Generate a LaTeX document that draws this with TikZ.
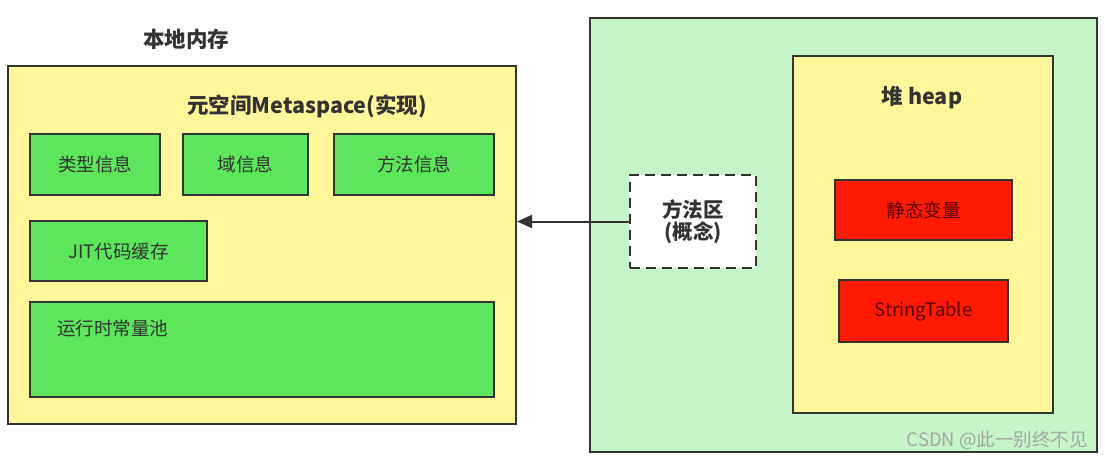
\documentclass[tikz,border=0pt]{standalone}
\usepackage{fontspec}
\setmainfont{Noto Sans CJK SC}
\usepackage{tikz}
\usetikzlibrary{arrows.meta,positioning,calc}

\definecolor{memyellow}{RGB}{255,247,153}
\definecolor{boxgreen}{RGB}{92,230,92}
\definecolor{jvmgreen}{RGB}{198,245,202}
\definecolor{heapred}{RGB}{255,26,0}
\definecolor{edge}{RGB}{51,51,51}

\tikzset{
  area/.style={draw=edge,line width=2pt,rectangle,inner sep=0pt},
  membox/.style={area,fill=memyellow},
  infobox/.style={area,fill=boxgreen,text=edge,font=\fontsize{18.5}{21}\selectfont},
  redbox/.style={area,fill=heapred,text=red!35!black,font=\fontsize{18.5}{21}\selectfont},
  title/.style={text=edge,font=\fontsize{21.5}{24}\selectfont\bfseries},
}

\begin{document}
\begin{tikzpicture}[x=1pt,y=-1pt]
  \useasboundingbox[fill=white] (0,0) rectangle (1105,459);

  % native memory side
  \node[title] (memtitle) at (186,39) {本地内存};
  \node[membox,minimum width=508pt,minimum height=358pt] (mem) at (262,245) {};
  \node[title] (metatitle) at (307,106) {元空间Metaspace(实现)};

  \node[infobox,minimum width=130pt,minimum height=61pt] (cls) at (95,164.5) {类型信息};
  \node[infobox,minimum width=125pt,minimum height=61pt] (fld) at (245.5,164.5) {域信息};
  \node[infobox,minimum width=160pt,minimum height=61pt] (mtd) at (414,164.5) {方法信息};
  \node[infobox,minimum width=177pt,minimum height=60pt] (jit) at (118.5,251) {JIT代码缓存};
  \node[infobox,minimum width=464pt,minimum height=95pt] (pool) at (262,349.5) {};
  \node[text=edge,font=\fontsize{18.5}{21}\selectfont,anchor=west,inner sep=0pt] (pooltext) at (57,328) {运行时常量池};

  % jvm side
  \node[area,fill=jvmgreen,minimum width=507pt,minimum height=434pt] (jvm) at (843.5,235) {};
  \node[membox,minimum width=260pt,minimum height=357pt] (heap) at (923,234.5) {};
  \node[title] (heaptitle) at (922,98) {堆 heap};
  \node[redbox,minimum width=177pt,minimum height=60pt] (static) at (923.5,210) {静态变量};
  \node[redbox,minimum width=169pt,minimum height=62pt] (strtab) at (923.5,311) {StringTable};

  \node[area,fill=white,dash pattern=on 10pt off 6pt,line width=2.5pt,
        minimum width=126pt,minimum height=93pt,align=center,
        text=edge,font=\fontsize{20.5}{22}\selectfont\bfseries] (method) at (693,221.5) {方法区\\(概念)};

  \draw[-{Triangle[length=15pt,width=13pt]},draw=edge,fill=edge,line width=2pt]
    (method.west) -- (method.west -| mem.east);

  \node[text=gray!70,font=\fontsize{18.5}{20}\selectfont,anchor=east,inner sep=0pt] (mark) at (1088,440) {CSDN @此一别终不见};
\end{tikzpicture}
\end{document}
